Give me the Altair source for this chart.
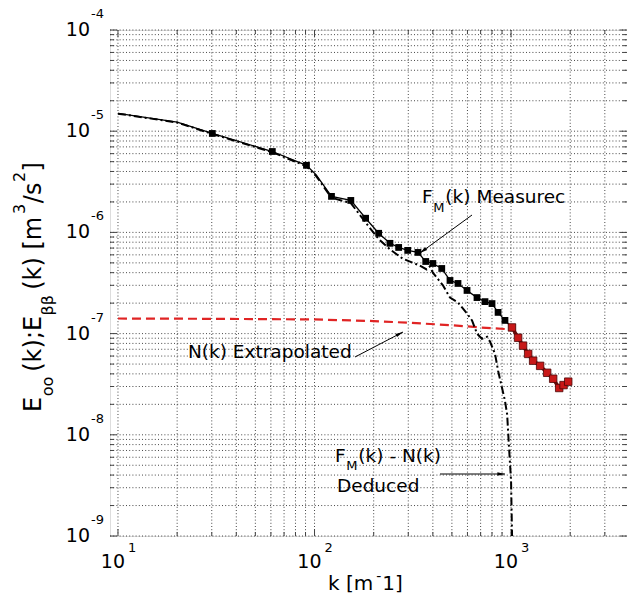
import math
import altair as alt
import pandas as pd

# ---------------- data ----------------
# F_M(k) measured (black squares)
meas_k = [10, 20, 30.2, 61, 91, 102, 122, 153, 182, 212, 242, 268, 298, 336, 368,
          400, 444, 489, 537, 597, 671, 737, 800, 859, 931, 1011]
meas_E = [1.5e-5, 1.23e-5, 9.5e-6, 6.3e-6, 4.6e-6, 3.7e-6, 2.27e-6, 2.07e-6, 1.38e-6,
          9.8e-7, 7.8e-7, 7.1e-7, 6.64e-7, 6.34e-7, 5.16e-7, 4.93e-7, 4.4e-7, 3.35e-7,
          3.13e-7, 2.67e-7, 2.27e-7, 2.07e-7, 1.98e-7, 1.62e-7, 1.35e-7, 1.15e-7]
meas_marker = [0, 0, 1, 1, 1, 0] + [1] * 20

# high-k measured part (red squares)
high_k = [1011, 1086, 1151, 1222, 1295, 1406, 1527, 1638, 1758, 1850, 1954]
high_E = [1.15e-7, 9.1e-8, 7.6e-8, 6.3e-8, 5.4e-8, 4.8e-8, 4.1e-8, 3.58e-8, 2.9e-8,
          3.1e-8, 3.35e-8]

# F_M(k) - N(k) deduced (black dash-dot)
ded_k = [10, 20, 30.2, 61, 91, 102, 122, 153, 182, 212, 242, 281, 343, 372, 386, 400,
         450, 489, 537, 597, 633, 671, 711, 755, 782, 829, 859, 900, 931, 955, 977,
         1000, 1011, 1016]
ded_E = [1.49e-5, 1.22e-5, 9.4e-6, 6.2e-6, 4.5e-6, 3.6e-6, 2.2e-6, 1.95e-6, 1.25e-6,
         8.6e-7, 6.8e-7, 5.5e-7, 4.7e-7, 4.3e-7, 4.6e-7, 4.0e-7, 3.0e-7, 2.27e-7,
         2.03e-7, 1.58e-7, 1.35e-7, 1.0e-7, 8.9e-8, 9.3e-8, 8.3e-8, 6.3e-8, 4.3e-8,
         2.9e-8, 2.17e-8, 1.6e-8, 7.4e-9, 3.5e-9, 1.1e-9, 5e-10]

# N(k) extrapolated (red dashed)
noise_k = [10, 30, 100, 200, 300, 500, 700, 1000]
noise_E = [1.41e-7, 1.40e-7, 1.38e-7, 1.33e-7, 1.28e-7, 1.21e-7, 1.15e-7, 1.1e-7]

# tick labels
x_tick_vals = [10, 100, 1000]
x_tick_exp = ["1", "2", "3"]
y_tick_vals = [1e-9, 1e-8, 1e-7, 1e-6, 1e-5, 1e-4]
y_tick_exp = ["-9", "-8", "-7", "-6", "-5", "-4"]

xgrid_major = [10, 100, 1000]
xgrid_minor = [20, 30, 40, 50, 60, 70, 80, 90, 200, 300, 400, 500, 600, 700, 800, 900,
               2000, 3000]
ygrid_major = [1e-9, 1e-8, 1e-7, 1e-6, 1e-5, 1e-4]
ygrid_minor = [m * 10.0 ** e for e in range(-9, -4) for m in range(2, 10)]

# ---------------- layout ----------------
W, H = 517, 506
XDOM = [9.107, 3890.0]
YDOM = [1e-9, 1e-4]
LX0, LX1 = math.log10(XDOM[0]), math.log10(XDOM[1])
LY0, LY1 = math.log10(YDOM[0]), math.log10(YDOM[1])
FONT = "DejaVu Sans"

xs = alt.Scale(type="log", domain=XDOM, nice=False)
ys = alt.Scale(type="log", domain=YDOM, nice=False)


def X(f="k"):
    return alt.X(f"{f}:Q", scale=xs, axis=None)


def Y(f="E"):
    return alt.Y(f"{f}:Q", scale=ys, axis=None)


def px2k(px):
    return 10 ** (LX0 + px / W * (LX1 - LX0))


def py2E(py):
    return 10 ** (LY1 - py / H * (LY1 - LY0))


WID = {'E': .632, 'o': .612, '(': .390, 'k': .579, ')': .390, ';': .337, 'β': .641,
       ' ': .318, '[': .390, 'm': .974, '3': .636, '/': .337, 's': .521, '2': .636,
       ']': .390, '1': .636, '-': .361, '0': .636, 'M': .863, 'F': .575, 'N': .748,
       'e': .615, 'a': .613, 'u': .634, 'r': .411, 'c': .550, 'x': .592, 't': .392,
       'p': .635, 'l': .278, 'd': .635, 'D': .770}


def tw(text, size):
    return sum(WID.get(c, .6) for c in text) * size


def run(pieces, x0, base):
    rows, pos = [], 0.0
    for text, size, shift, gap in pieces:
        pos += gap
        rows.append(dict(px=x0 + pos, py=base + shift, t=text, s=size))
        pos += tw(text, size)
    return rows


rows = []
rows += run([("F", 18.5, 0, 0), ("M", 13, 9, 0.5), ("(k)", 18.5, 0, 1),
             ("Measurec", 18.5, 0, 6)], 312, 173)
rows += run([("N(k) Extrapolated", 18.5, 0, 0)], 78, 328)
rows += run([("F", 18.5, 0, 0), ("M", 13, 8, 0.5), ("(k) - N(k)", 18.5, 0, 1)], 225, 432)
rows += run([("Deduced", 18.5, 0, 0)], 227, 462)
rows += run([("k [m", 20, 0, 0), ("-", 14, -9, 3), ("1]", 20, 0, 1)], 218, 560)
htext = pd.DataFrame([dict(k=px2k(r["px"]), E=py2E(r["py"]), t=r["t"], s=r["s"]) for r in rows])

# rotated y title: runs upward from y=382, baseline at x=-69
ytitle = [("E", 24, 0, 0), ("oo", 16, 12, 0.5), ("(k);E", 24, 0, 5), ("ββ", 16, 12, 0.5),
          ("(k) [m", 24, 0, 5), ("3", 16, -16, 3), ("/s", 24, 0, 0.5), ("2", 16, -16, 0.5),
          ("]", 24, 0, 0.5)]
vrows, pos = [], 0.0
for text, size, shift, gap in ytitle:
    pos += gap
    vrows.append(dict(k=px2k(-69 + shift), E=py2E(382 - pos), t=text, s=size))
    pos += tw(text, size)
vtext = pd.DataFrame(vrows)

# arrows (pixel coords relative to plot area)
arrows = [((362, 185), (310, 223)), ((245, 327), (293, 302)), ((330, 444), (395, 444))]
arr_lines = pd.DataFrame([dict(k=px2k(a[0]), E=py2E(a[1]), k2=px2k(b[0]), E2=py2E(b[1]))
                          for a, b in arrows])
arr_heads = pd.DataFrame([dict(k=px2k(b[0]), E=py2E(b[1]),
                               ang=(math.degrees(math.atan2(b[0] - a[0], -(b[1] - a[1]))) + 360) % 360)
                          for a, b in arrows])
ARROW = "M0,0L0.45,1.9L-0.45,1.9Z"

# ---------------- layers ----------------
layers = []
grid_x = pd.DataFrame({"k": xgrid_major + xgrid_minor})
grid_y = pd.DataFrame({"E": ygrid_major + ygrid_minor})
GRID = dict(color="#1a1a1a", strokeWidth=1, strokeDash=[1, 2.2], opacity=0.8)
layers.append(alt.Chart(grid_x).mark_rule(**GRID)
              .encode(x=X(), y=alt.value(0), y2=alt.value(H)))
layers.append(alt.Chart(grid_y).mark_rule(**GRID)
              .encode(y=Y(), x=alt.value(0), x2=alt.value(W)))


def ticks_x(vals, L):
    d = pd.DataFrame({"k": vals})
    return [alt.Chart(d).mark_rule(color="#444", strokeWidth=1)
            .encode(x=X(), y=alt.value(H), y2=alt.value(H - L)),
            alt.Chart(d).mark_rule(color="#444", strokeWidth=1)
            .encode(x=X(), y=alt.value(0), y2=alt.value(L))]


def ticks_y(vals, L):
    d = pd.DataFrame({"E": vals})
    return [alt.Chart(d).mark_rule(color="#444", strokeWidth=1)
            .encode(y=Y(), x=alt.value(0), x2=alt.value(L)),
            alt.Chart(d).mark_rule(color="#444", strokeWidth=1)
            .encode(y=Y(), x=alt.value(W), x2=alt.value(W - L))]


layers += ticks_x(xgrid_major, 7) + ticks_x(xgrid_minor, 4)
layers += ticks_y(ygrid_major, 7) + ticks_y(ygrid_minor, 4)

df_noise = pd.DataFrame({"k": noise_k, "E": noise_E})
df_ded = pd.DataFrame({"k": ded_k, "E": ded_E})
df_meas = pd.DataFrame({"k": meas_k, "E": meas_E, "m": meas_marker})
df_high = pd.DataFrame({"k": high_k, "E": high_E})

layers.append(alt.Chart(df_noise).mark_line(color="#e02424", strokeWidth=2.2, strokeDash=[9, 5], clip=True)
              .encode(x=X(), y=Y()))
layers.append(alt.Chart(df_ded).mark_line(color="black", strokeWidth=2, strokeDash=[8, 3, 2, 3], clip=True)
              .encode(x=X(), y=Y()))
layers.append(alt.Chart(df_meas).mark_line(color="black", strokeWidth=1.3, clip=True)
              .encode(x=X(), y=Y()))
layers.append(alt.Chart(df_meas[df_meas.m == 1]).mark_point(shape="square", filled=True, color="black",
                                                             size=46, opacity=1)
              .encode(x=X(), y=Y()))
layers.append(alt.Chart(df_high).mark_line(color="#6a0c0c", strokeWidth=3.5, clip=True)
              .encode(x=X(), y=Y()))
layers.append(alt.Chart(df_high).mark_point(shape="square", filled=True, fill="#c81818", stroke="#4a0808",
                                            strokeWidth=0.8, size=56, opacity=1)
              .encode(x=X(), y=Y()))

# tick labels
xt = pd.DataFrame({"k": x_tick_vals, "t": ["10"] * 3, "e": x_tick_exp})
yt = pd.DataFrame({"E": y_tick_vals, "t": ["10"] * 6, "e": y_tick_exp})
layers.append(alt.Chart(xt).mark_text(align="right", baseline="alphabetic", font=FONT, fontSize=19,
                                      dx=7, color="black")
              .encode(x=X(), y=alt.value(H + 32), text="t:N"))
layers.append(alt.Chart(xt).mark_text(align="left", baseline="alphabetic", font=FONT, fontSize=13,
                                      dx=10, color="black")
              .encode(x=X(), y=alt.value(H + 16), text="e:N"))
layers.append(alt.Chart(yt).mark_text(align="right", baseline="alphabetic", font=FONT, fontSize=19,
                                      dy=6, color="black")
              .encode(y=Y(), x=alt.value(-20), text="t:N"))
layers.append(alt.Chart(yt).mark_text(align="left", baseline="alphabetic", font=FONT, fontSize=13,
                                      dy=-12, color="black")
              .encode(y=Y(), x=alt.value(-19), text="e:N"))

# annotation and title texts
layers.append(alt.Chart(htext).mark_text(align="left", baseline="alphabetic", font=FONT, color="black")
              .encode(x=X(), y=Y(), text="t:N", size=alt.Size("s:Q", scale=None)))
layers.append(alt.Chart(vtext).mark_text(align="left", baseline="alphabetic", font=FONT, color="black",
                                         angle=270)
              .encode(x=X(), y=Y(), text="t:N", size=alt.Size("s:Q", scale=None)))

# arrows
layers.append(alt.Chart(arr_lines).mark_rule(color="black", strokeWidth=1)
              .encode(x=X(), y=Y(), x2=alt.X2("k2:Q"), y2=alt.Y2("E2:Q")))
layers.append(alt.Chart(arr_heads).mark_point(shape=ARROW, filled=True, color="black", size=64, opacity=1)
              .encode(x=X(), y=Y(), angle=alt.Angle("ang:Q", scale=None)))

chart = (alt.layer(*layers)
         .properties(width=W, height=H,
                     padding={"left": 110, "top": 30, "right": 0, "bottom": 74},
                     autosize=alt.AutoSizeParams(type="none"))
         .configure_view(stroke="#555", strokeWidth=1.5)
         .configure(background="white"))

chart.save("out.html", embed_options={"renderer": "svg", "actions": False})
